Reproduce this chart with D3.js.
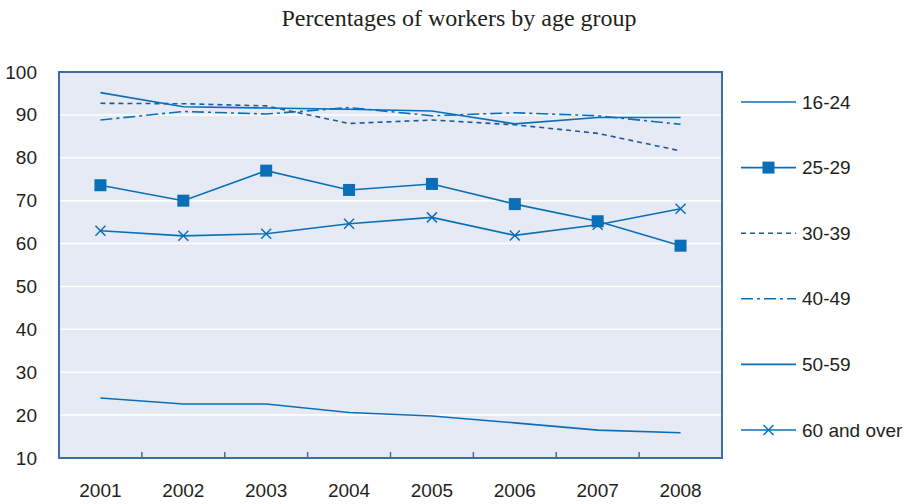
<!DOCTYPE html>
<meta charset="utf-8">
<script src="https://d3js.org/d3.v7.min.js"></script>
<style>
  body { margin: 0; background: #fff; }
  text { font-family: "Liberation Sans", Arial, sans-serif; fill: #231f20; }
</style>
<div id="my_dataviz"></div>
<script>

// data
var years = ["2001", "2002", "2003", "2004", "2005", "2006", "2007", "2008"];
var yTicks = [10, 20, 30, 40, 50, 60, 70, 80, 90, 100];
var groups = ["16-24", "25-29", "30-39", "40-49", "50-59", "60 and over"];

var v1624 = [24.0, 22.6, 22.6, 20.6, 19.8, 18.2, 16.5, 15.9];
var v2529 = [73.6, 70.0, 77.0, 72.5, 73.9, 69.2, 65.2, 59.5];
var v3039 = [92.7, 92.6, 92.1, 88.0, 88.8, 87.7, 85.7, 81.6];
var v4049 = [88.8, 90.8, 90.2, 91.7, 89.8, 90.5, 89.8, 87.8];
var v5059 = [95.2, 91.9, 91.6, 91.3, 90.9, 87.9, 89.4, 89.4];
var v60 = [63.0, 61.8, 62.3, 64.6, 66.1, 61.9, 64.4, 68.1];

var seriesValues = [v1624, v2529, v3039, v4049, v5059, v60];
var lineStyle = [
  {dash: null, marker: null, color: "#0b6fb8"},
  {dash: null, marker: "square", color: "#0b6fb8"},
  {dash: "5,4", marker: null, color: "#1d5a98"},
  {dash: "12,4,3,4", marker: null, color: "#0b6fb8"},
  {dash: null, marker: null, color: "#0b6fb8"},
  {dash: null, marker: "cross", color: "#0b6fb8"}
];

var W = 909, H = 504;
var margin = {top: 72, right: 187, bottom: 46, left: 59},
    width = W - margin.left - margin.right,
    height = H - margin.top - margin.bottom;

var root = d3.select("#my_dataviz").append("svg")
  .attr("width", W).attr("height", H);

// title
root.append("text")
  .attr("x", 459).attr("y", 26)
  .attr("text-anchor", "middle")
  .style("font-family", "'Liberation Serif', 'Times New Roman', serif")
  .style("font-size", "24px")
  .text("Percentages of workers by age group");

var svg = root.append("g")
  .attr("transform", "translate(" + margin.left + "," + margin.top + ")");

var x = d3.scaleBand().domain(years).range([0, width]).padding(0);
var y = d3.scaleLinear().domain([10, 100]).range([height, 0]);

// plot background
svg.append("rect")
  .attr("width", width).attr("height", height)
  .attr("fill", "#e6eaf5");

// white gridlines
svg.selectAll(".grid")
  .data(yTicks.slice(1, -1))
  .enter().append("line")
    .attr("x1", 0).attr("x2", width)
    .attr("y1", function(d) { return y(d); })
    .attr("y2", function(d) { return y(d); })
    .attr("stroke", "#fff").attr("stroke-width", 1.5);

// X axis labels
var xAxis = svg.append("g")
  .attr("transform", "translate(0," + height + ")")
  .call(d3.axisBottom(x).tickSize(0).tickPadding(26));
xAxis.select(".domain").remove();
xAxis.selectAll("text").style("font-size", "19px").style("font-family", "'Liberation Sans', Arial, sans-serif").attr("fill", "#231f20");

// Y axis labels
var yAxis = svg.append("g")
  .call(d3.axisLeft(y).tickValues(yTicks).tickSize(0).tickPadding(22));
yAxis.select(".domain").remove();
yAxis.selectAll("text").style("font-size", "19px").style("font-family", "'Liberation Sans', Arial, sans-serif").attr("fill", "#231f20");

// tick marks between categories, pointing up
svg.selectAll(".xtick")
  .data(years.slice(1))
  .enter().append("line")
    .attr("x1", function(d) { return x(d); })
    .attr("x2", function(d) { return x(d); })
    .attr("y1", height).attr("y2", height - 6)
    .attr("stroke", "#3b6ea8").attr("stroke-width", 1.5);

// frame
svg.append("rect")
  .attr("width", width).attr("height", height)
  .attr("fill", "none")
  .attr("stroke", "#3b6ea8").attr("stroke-width", 2);

var cx = function(i) { return x(years[i]) + x.bandwidth() / 2; };

var line = d3.line()
  .x(function(d, i) { return cx(i); })
  .y(function(d) { return y(d); });

function drawMarker(g, type, px, py, color) {
  if (type === "square") {
    g.append("rect")
      .attr("x", px - 6).attr("y", py - 6)
      .attr("width", 12).attr("height", 12)
      .attr("fill", color);
  } else if (type === "cross") {
    g.append("path")
      .attr("d", "M" + (px - 5) + "," + (py - 5) + "L" + (px + 5) + "," + (py + 5) +
                 "M" + (px - 5) + "," + (py + 5) + "L" + (px + 5) + "," + (py - 5))
      .attr("stroke", color).attr("stroke-width", 1.5).attr("fill", "none");
  }
}

// the lines and markers
seriesValues.forEach(function(vals, k) {
  var st = lineStyle[k];
  var g = svg.append("g");
  g.append("path")
    .attr("d", line(vals))
    .attr("fill", "none")
    .attr("stroke", st.color)
    .attr("stroke-width", 1.6)
    .attr("stroke-dasharray", st.dash);
  if (st.marker) {
    vals.forEach(function(v, i) { drawMarker(g, st.marker, cx(i), y(v), st.color); });
  }
});

// legend
var legend = root.append("g");
groups.forEach(function(name, k) {
  var st = lineStyle[k];
  var ly = 102 + k * 65.6;
  var lg = legend.append("g");
  lg.append("line")
    .attr("x1", 741).attr("x2", 796)
    .attr("y1", ly).attr("y2", ly)
    .attr("stroke", st.color).attr("stroke-width", 1.6)
    .attr("stroke-dasharray", st.dash);
  if (st.marker) drawMarker(lg, st.marker, 768.5, ly, st.color);
  lg.append("text")
    .attr("x", 802).attr("y", ly)
    .attr("dy", "0.35em")
    .style("font-size", "19px")
    .text(name);
});

</script>
